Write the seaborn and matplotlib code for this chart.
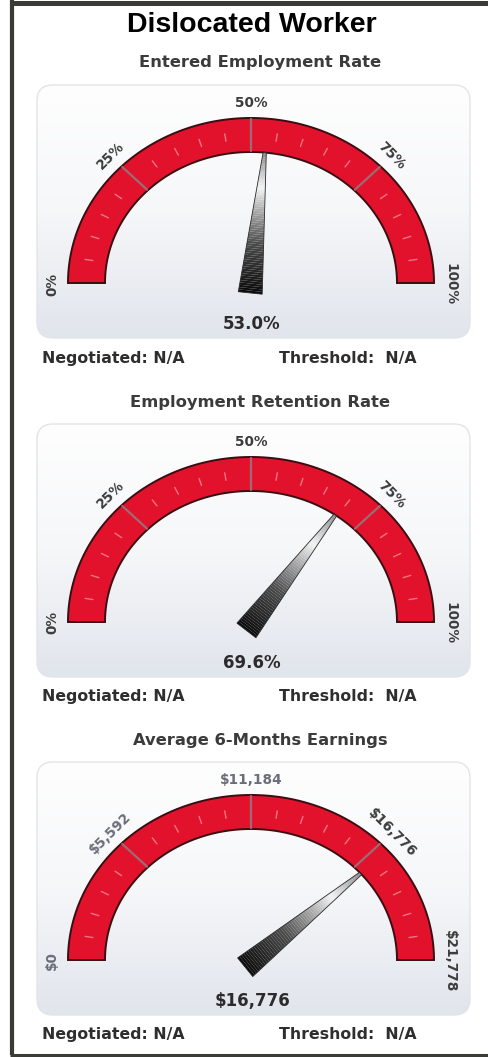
import numpy as np
import matplotlib
matplotlib.use("Agg")
import matplotlib.pyplot as plt
import seaborn as sns
from matplotlib.patches import Polygon, FancyBboxPatch
from matplotlib.colors import LinearSegmentedColormap

# dados dos tres mostradores
titles = ["Entered Employment Rate", "Employment Retention Rate", "Average 6-Months Earnings"]
values = [53.0, 69.6, 16776]
max_values = [100, 100, 21778]
value_labels = ["53.0%", "69.6%", "$16,776"]
tick_fracs = [0, 0.25, 0.5, 0.75, 1.0]
tick_labels = [
    ["0%", "25%", "50%", "75%", "100%"],
    ["0%", "25%", "50%", "75%", "100%"],
    ["$0", "$5,592", "$11,184", "$16,776", "$21,778"],
]
negotiated = ["N/A", "N/A", "N/A"]
threshold = ["N/A", "N/A", "N/A"]

sns.set_theme(style="white")
plt.rcParams['font.family'] = ['DejaVu Sans']

W, H = 488, 1057
fig = plt.figure(figsize=(W / 100, H / 100), dpi=100)
ax = fig.add_axes([0, 0, 1, 1])
ax.set_axis_off()

cx = 251
baselines = [283, 622, 960]
rx_out, ry_out = 183, 165
rx_in, ry_in = 146, 131

band_red = "#e3122c"
needle_cmap = LinearSegmentedColormap.from_list(
    "needle", [(0, "#0a0a0a"), (0.35, "#4a4a4a"), (0.62, "#b8b8b8"), (0.75, "#f4f4f4"), (1.0, "#8a8a8a")])
panel_cmap = LinearSegmentedColormap.from_list("panel", ["#fefefe", "#f6f7f9", "#e1e5ec"])


def ell(t, rx, ry, by):
    # ponto na elipse (angulo em graus, 0 = direita)
    r = np.radians(t)
    return cx + rx * np.cos(r), by - ry * np.sin(r)


# titulo principal
ax.text(W / 2 + 8, 25, "Dislocated Worker", ha="center", va="center", fontsize=20.5,
        fontweight="bold", family="Liberation Sans", color="#000000")

for i, by in enumerate(baselines):
    # painel com degrade
    x0, x1 = 37, 470
    y_top, y_bot = by - 198, by + 55
    panel = FancyBboxPatch((x0, y_top), x1 - x0, y_bot - y_top,
                           boxstyle="round,pad=0,rounding_size=16",
                           facecolor="none", edgecolor="#e2e4e8", lw=1, zorder=1)
    ax.add_patch(panel)
    grad = np.linspace(0, 1, 200).reshape(-1, 1)
    im = ax.imshow(grad, cmap=panel_cmap, extent=(x0, x1, y_bot, y_top),
                   origin="upper", aspect="auto", zorder=0.5)
    im.set_clip_path(panel)

    # subtitulo
    ax.text(W / 2 + 16, by - 220, titles[i], ha="center", va="center", fontsize=11.8,
            fontweight="bold", color="#3b3b3b")

    # faixa vermelha
    t = np.linspace(180, 0, 200)
    ox, oy = ell(t, rx_out, ry_out, by)
    ix, iy = ell(t[::-1], rx_in, ry_in, by)
    band = np.column_stack([np.concatenate([ox, ix]), np.concatenate([oy, iy])])
    ax.add_patch(Polygon(band, closed=True, facecolor=band_red, edgecolor="#3a0d12",
                         lw=1.4, zorder=2))

    # marcas menores
    for k in range(1, 20):
        if k % 5 == 0:
            continue
        a = 180 - k * 9
        xa, ya = ell(a, rx_in + 14, ry_in + 12.5, by)
        xb, yb = ell(a, rx_in + 22, ry_in + 20, by)
        ax.plot([xa, xb], [ya, yb], color="#ee7482", lw=1, zorder=3)

    # marcas maiores e rotulos
    for f, lab in zip(tick_fracs, tick_labels[i]):
        a = 180 - f * 180
        if 0 < f < 1:
            xa, ya = ell(a, rx_in + 1, ry_in + 1, by)
            xb, yb = ell(a, rx_out - 1, ry_out - 1, by)
            ax.plot([xa, xb], [ya, yb], color="#9b6c74", lw=1.6, zorder=3)
        lx, ly = ell(a, rx_out + 16, ry_out + 15, by)
        if f in (0, 1):
            ly = by + 1
        col = "#3c3c3c" if i < 2 or f >= 0.75 else "#6a6e7a"
        ax.text(lx, ly, lab, ha="center", va="center", rotation=a - 90,
                fontsize=9.8, fontweight="bold", color=col, zorder=4)

    # ponteiro com degrade
    frac = values[i] / max_values[i]
    a = 180 - frac * 180
    p0 = np.array([cx, by + 2.5])
    tip = np.array(ell(a, rx_in, ry_in, by))
    u = (tip - p0) / np.linalg.norm(tip - p0)
    n = np.array([-u[1], u[0]])
    base = p0 - 7.5 * u
    L = np.linalg.norm(tip - base)
    nseg = 60
    hw0, hw1 = 12, 1.6
    for s in range(nseg):
        f0, f1 = s / nseg, (s + 1) / nseg
        c0, c1 = base + u * L * f0, base + u * L * f1
        w0 = hw0 * (1 - f0) + hw1 * f0
        w1 = hw0 * (1 - f1) + hw1 * f1
        quad = [c0 + n * w0, c1 + n * w1, c1 - n * w1, c0 - n * w0]
        ax.add_patch(Polygon(quad, closed=True, facecolor=needle_cmap((f0 + f1) / 2),
                             edgecolor="none", zorder=5))
    outline = [base + n * hw0, tip + n * hw1, tip - n * hw1, base - n * hw0]
    ax.add_patch(Polygon(outline, closed=True, facecolor="none", edgecolor="#2a2a2a",
                         lw=0.6, zorder=6))

    # valor
    ax.text(cx + 1, by + 41, value_labels[i], ha="center", va="center", fontsize=12,
            fontweight="bold", color="#2b2b2b")

    # linha inferior
    ax.text(42, by + 75, "Negotiated: " + negotiated[i], ha="left", va="center",
            fontsize=11.3, fontweight="bold", color="#2e2e2e")
    ax.text(279, by + 75, "Threshold:  " + threshold[i], ha="left", va="center",
            fontsize=11.3, fontweight="bold", color="#2e2e2e")

# moldura
ax.plot([12, 12], [0, 1055], color="#3a3a36", lw=3, solid_capstyle="butt", zorder=7)
ax.plot([10, W], [2.5, 2.5], color="#3a3a36", lw=3.6, solid_capstyle="butt", zorder=7)
ax.plot([10, W], [1054.5, 1054.5], color="#3a3a36", lw=2.2, solid_capstyle="butt", zorder=7)

ax.set_xlim(0, W)
ax.set_ylim(H, 0)
fig.savefig("out.png", dpi=100, facecolor="white")
